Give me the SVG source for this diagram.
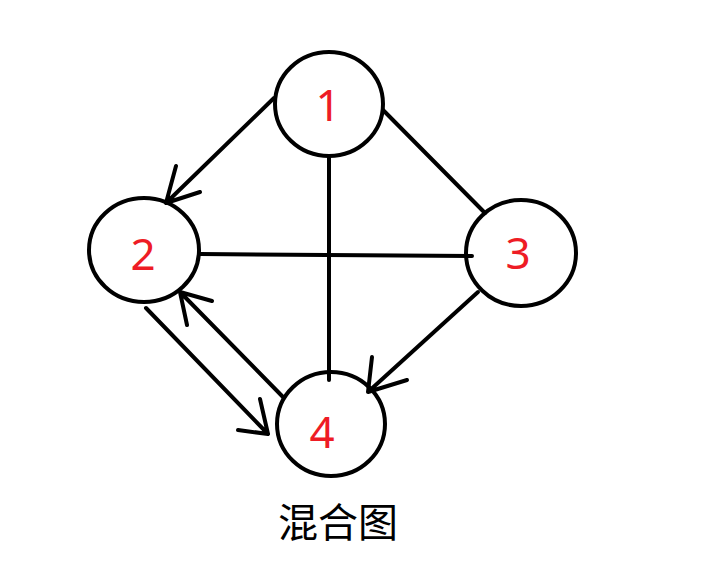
<svg xmlns="http://www.w3.org/2000/svg" width="710" height="584" viewBox="0 0 710 584">
<style>
.n{fill:#fff;stroke:#000;stroke-width:4}
.t{fill:#ee1c25;font-family:"Noto Sans","Liberation Sans",sans-serif;font-size:44px;text-anchor:middle}
.e{fill:none;stroke:#000;stroke-width:4;stroke-linecap:round;stroke-linejoin:round}
.cap{fill:#000;font-family:"Noto Sans CJK SC",sans-serif;font-size:40px;text-anchor:middle}
</style>
<rect width="710" height="584" fill="#fff"/>
<g id="edges">
<path class="e" d="M274,98 L166,203 M176,166 L166,203 L200,192"/>
<path class="e" d="M383,110 L485,213"/>
<path class="e" d="M329,157 L329,380"/>
<path class="e" d="M200,254 L472,256"/>
<path class="e" d="M478,292 L368,392 M372,357 L368,392 L407,380"/>
<path class="e" d="M146,308 L268,434 M260,399 L268,434 L238,430"/>
<path class="e" d="M283,397 L180,292 M187,325 L180,292 L212,301"/>
</g>
<g id="node1"><ellipse class="n" cx="329" cy="104" rx="54" ry="52" fill="none" style="fill:none"/><text class="t" x="328" y="121">1</text></g>
<g id="node2"><ellipse class="n" cx="144" cy="250" rx="55" ry="52" style="fill:none"/><text class="t" x="143" y="270">2</text></g>
<g id="node3"><ellipse class="n" cx="521" cy="253" rx="55" ry="53" style="fill:none"/><text class="t" x="518" y="269">3</text></g>
<g id="node4"><ellipse class="n" cx="331" cy="424" rx="54" ry="52" style="fill:none"/><text class="t" x="322" y="448">4</text></g>
<text class="cap" x="338" y="537">混合图</text>
</svg>
